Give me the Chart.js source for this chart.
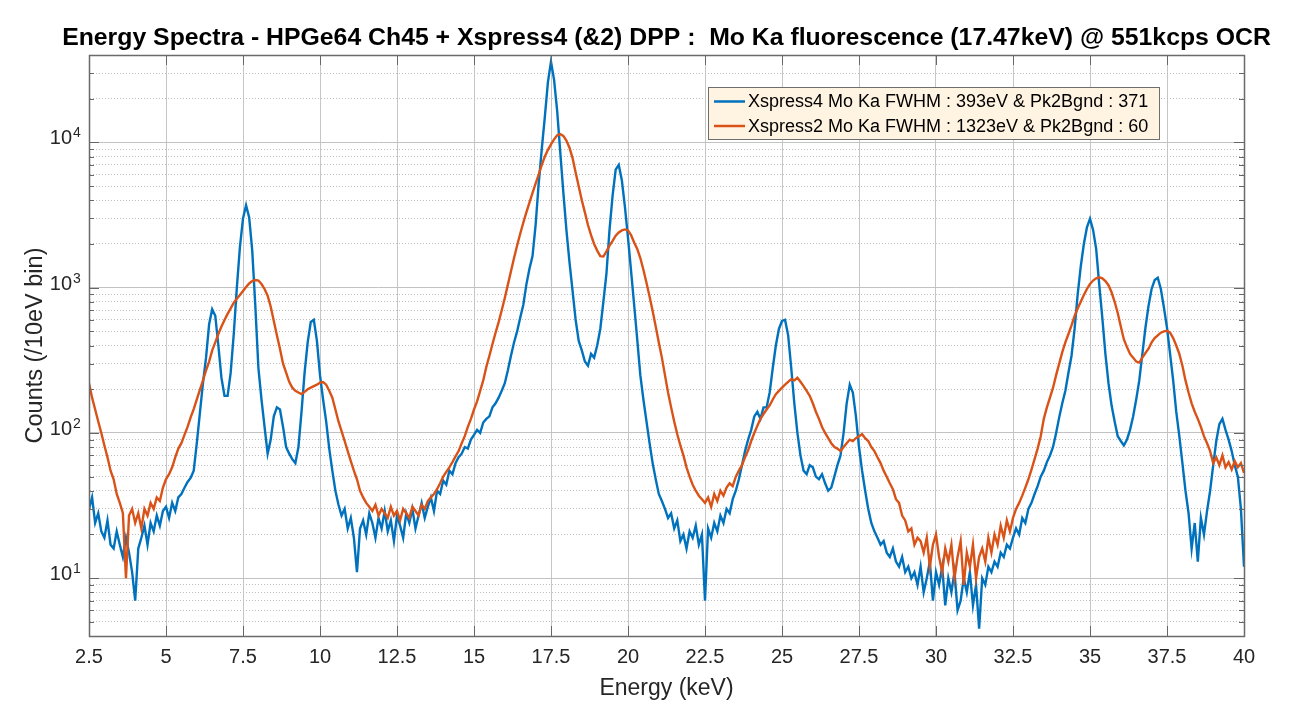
<!DOCTYPE html>
<html>
<head>
<meta charset="utf-8">
<script src="https://cdn.jsdelivr.net/npm/chart.js@4.4.1/dist/chart.umd.min.js"></script>
<style>
html,body{margin:0;padding:0;background:#fff;}
#wrap{width:1292px;height:718px;position:relative;}
</style>
</head>
<body>
<div id="wrap"><canvas id="c" width="1292" height="718"></canvas></div>
<script>
// ---- energy bins (keV): start and spacing of the sampled spectrum
const E_START = 2.5;
const E_STEP = 0.1;

// ---- Xspress4 counts (/10eV bin), one row per keV starting at 2.5, 3.5, ...
const xspress4Counts = [
  30, 36, 24, 28, 21, 19, 25, 17, 16, 21,
  17, 14, 19, 15, 11, 7, 16, 19, 23, 17,
  24, 21, 27, 23, 29, 31, 26, 33, 29, 36,
  38, 42, 46, 49, 55, 85, 137, 220, 330, 560,
  710, 640, 400, 240, 180, 180, 260, 480, 1000, 1900,
  3000, 3690, 3050, 1800, 750, 280, 170, 110, 72, 90,
  130, 150, 145, 110, 80, 72, 66, 62, 80, 140,
  260, 420, 580, 600, 430, 250, 170, 120, 78, 55,
  40, 32, 27, 30, 22, 26, 19, 11, 22, 25,
  20, 28, 24, 19, 26, 22, 29, 21, 25, 18,
  27, 23, 19, 28, 24, 30, 22, 27, 33, 26,
  31, 36, 29, 40, 38, 47, 44, 55, 52, 62,
  68, 72, 80, 78, 90, 97, 105, 100, 118, 125,
  130, 150, 160, 175, 195, 220, 270, 340, 420, 500,
  620, 760, 1050, 1350, 1650, 2700, 5200, 9000, 15000, 26000,
  36000, 27000, 16500, 8600, 4550, 2500, 1500, 950, 600, 430,
  370, 310, 290, 350, 330, 400, 520, 800, 1250, 2500,
  4300, 6500, 7000, 5500, 3600, 2200, 1300, 760, 440, 250,
  170, 120, 85, 62, 48, 38, 34, 30, 26, 28,
  22, 25, 18, 20, 16, 21, 19, 23, 17, 20,
  7, 22, 19, 24, 21, 27, 24, 30, 28, 35,
  40, 48, 60, 75, 90, 105, 130, 140, 125, 150,
  150, 190, 280, 400, 520, 590, 600, 470, 280, 160,
  100, 70, 55, 52, 60, 58, 50, 48, 52, 45,
  40, 42, 50, 60, 70, 100, 160, 215, 190, 130,
  80, 55, 40, 30, 24, 21, 19, 17, 18, 15,
  14, 16, 13, 12, 14, 11, 12, 10, 11, 9,
  12, 8, 10, 13, 7, 11, 9, 12, 6.5, 10,
  8, 11, 6, 7, 10, 8, 11, 6.5, 9, 4.5,
  10, 9, 12, 11, 13, 12, 15, 14, 17, 16,
  19, 22, 20, 26, 24, 30, 33, 38, 43, 50,
  55, 63, 70, 80, 100, 128, 160, 195, 260, 340,
  520, 900, 1400, 2000, 2600, 2980, 2500, 1850, 1050, 620,
  350, 220, 155, 120, 95, 88, 82, 90, 105, 130,
  170, 230, 350, 530, 750, 980, 1130, 1170, 980, 730,
  530, 350, 230, 140, 95, 62, 40, 28, 16, 24,
  13, 26, 20, 29, 40, 60, 88, 115, 125, 105,
  90, 75, 60, 50, 30, 12
];

// ---- Xspress2 counts (/10eV bin), same bins
const xspress2Counts = [
  220, 175, 145, 120, 100, 82, 68, 55, 48, 38,
  33, 28, 10, 27, 30, 24, 28, 22, 30, 27,
  33, 30, 36, 34, 42, 48, 52, 58, 68, 78,
  85, 97, 110, 128, 146, 170, 198, 230, 270, 310,
  370, 420, 480, 540, 600, 660, 720, 790, 840, 890,
  950, 1010, 1070, 1110, 1130, 1120, 1060, 980, 880, 740,
  590, 470, 380, 300, 260, 225, 205, 195, 190, 185,
  192, 200, 205, 210, 215, 222, 224, 215, 195, 175,
  145, 120, 103, 88, 75, 64, 55, 48, 40, 36,
  33, 31, 29, 32, 27, 30, 28, 26, 31, 27,
  29, 25, 30, 28, 26, 31, 29, 27, 32, 30,
  34, 36, 38, 41, 45, 50, 54, 58, 63, 69,
  75, 85, 95, 110, 125, 145, 165, 195, 230, 285,
  340, 410, 490, 580, 700, 850, 1050, 1300, 1600, 1950,
  2350, 2800, 3300, 3850, 4500, 5200, 6000, 7000, 8000, 8900,
  9700, 10500, 11200, 11400, 11100, 10300, 9200, 7800, 6200, 5000,
  4000, 3300, 2700, 2300, 2000, 1800, 1650, 1640, 1780, 1950,
  2100, 2280, 2400, 2480, 2520, 2480, 2300, 2050, 1850, 1600,
  1330, 1080, 870, 690, 540, 420, 330, 250, 190, 150,
  120, 98, 82, 70, 58, 50, 44, 40, 37, 35,
  33, 36, 31, 38, 34, 40, 37, 42, 45, 43,
  50, 55, 60, 68, 76, 88, 100, 112, 125, 135,
  145, 155, 170, 185, 195, 205, 215, 225, 235, 230,
  240, 225, 210, 195, 180, 160, 140, 125, 110, 100,
  92, 85, 80, 78, 75, 80, 85, 90, 88, 92,
  95, 98, 92, 88, 80, 75, 68, 62, 55, 50,
  45, 41, 35, 33, 27, 25, 21, 22, 17, 19,
  18, 15, 19, 12, 17, 20, 14, 11, 16, 13,
  17, 10, 14, 18, 9, 15, 12, 17, 10, 14,
  16, 13, 19, 15, 20, 17, 23, 19, 25, 21,
  26, 30, 33, 37, 42, 48, 56, 66, 78, 95,
  125, 150, 175, 205, 250, 300, 360, 420, 480, 550,
  640, 720, 800, 890, 980, 1060, 1120, 1160, 1180, 1160,
  1110, 1040, 930, 800, 670, 540, 440, 390, 350, 330,
  310, 305, 330, 355, 380, 420, 450, 470, 490, 500,
  505, 490, 450, 400, 350, 290, 230, 190, 160, 140,
  125, 110, 95, 85, 75, 62, 68, 60, 70, 58,
  63, 56, 64, 58, 62, 53
];

const seriesLabels = [
  'Xspress4 Mo Ka FWHM : 393eV & Pk2Bgnd : 371',
  'Xspress2 Mo Ka FWHM : 1323eV & Pk2Bgnd : 60'
];
const seriesColors = ['#0072BD', '#D95319'];
const chartTitle = 'Energy Spectra - HPGe64 Ch45 + Xspress4 (&2) DPP :  Mo Ka fluorescence (17.47keV) @ 551kcps OCR';
const xAxisTitle = 'Energy (keV)';
const yAxisTitle = 'Counts (/10eV bin)';

const xMin = 2.5, xMax = 40, xTickStep = 2.5;
const yMin = 4, yMax = 40000;
const yMajorTicks = [10, 100, 1000, 10000];
const yTickBase = '10';
const yTickExponents = ['1', '2', '3', '4'];
const yMinorMultipliers = [2, 3, 4, 5, 6, 7, 8, 9];

// ---- derived
const energies = xspress4Counts.map((_, i) => +(E_START + i * E_STEP).toFixed(2));
const yTickValues = [];
[1, 10, 100, 1000, 10000].forEach(dec => {
  [1].concat(yMinorMultipliers).forEach(m => {
    const v = dec * m;
    if (v > yMin && v < yMax) yTickValues.push(v);
  });
});
const isMajor = v => yMajorTicks.indexOf(v) >= 0;

const FONT = "'Liberation Sans', Arial, Helvetica, sans-serif";

// title centred over the axes box (MATLAB style)
const titlePlugin = {
  id: 'axesTitle',
  afterDraw(chart) {
    const ctx = chart.ctx, a = chart.chartArea;
    ctx.save();
    ctx.font = 'bold 24.8px ' + FONT;
    ctx.fillStyle = '#000';
    ctx.textAlign = 'center';
    ctx.textBaseline = 'alphabetic';
    ctx.fillText(chartTitle, (a.left + a.right) / 2, 45);
    ctx.restore();
  }
};

// y tick labels as 10 with a raised exponent (MATLAB style)
const yLabelPlugin = {
  id: 'yPowLabels',
  afterDraw(chart) {
    const ctx = chart.ctx, ys = chart.scales.y;
    ctx.save();
    ctx.fillStyle = '#262626';
    ctx.textBaseline = 'alphabetic';
    yMajorTicks.forEach((v, i) => {
      const py = ys.getPixelForValue(v);
      ctx.font = '20px ' + FONT;
      ctx.textAlign = 'right';
      ctx.fillText(yTickBase, 72, py + 2);
      ctx.font = '14px ' + FONT;
      ctx.textAlign = 'left';
      ctx.fillText(yTickExponents[i], 73, py - 5);
    });
    ctx.restore();
  }
};

const boxPlugin = {
  id: 'box',
  afterDraw(chart) {
    const {ctx, chartArea: a, scales} = chart;
    ctx.save();
    ctx.strokeStyle = '#666';
    ctx.lineWidth = 1;
    ctx.beginPath();
    scales.x.ticks.forEach(t => {
      const px = Math.round(scales.x.getPixelForValue(t.value)) + 0.5;
      ctx.moveTo(px, a.bottom); ctx.lineTo(px, a.bottom - 10);
      ctx.moveTo(px, a.top); ctx.lineTo(px, a.top + 10);
    });
    scales.y.ticks.forEach(t => {
      const py = Math.round(scales.y.getPixelForValue(t.value)) + 0.5;
      const len = isMajor(t.value) ? 10 : 5;
      ctx.moveTo(a.left, py); ctx.lineTo(a.left + len, py);
      ctx.moveTo(a.right, py); ctx.lineTo(a.right - len, py);
    });
    ctx.stroke();
    ctx.strokeStyle = '#6a6a6a';
    ctx.lineWidth = 1.5;
    ctx.strokeRect(Math.round(a.left) + 0.5, Math.round(a.top) + 0.5,
                   Math.round(a.right - a.left), Math.round(a.bottom - a.top));
    ctx.restore();
  }
};

const legendPlugin = {
  id: 'matlabLegend',
  afterDatasetsDraw(chart) {
    const ctx = chart.ctx;
    const bx = 708, by = 87, bw = 451, bh = 52;
    ctx.save();
    ctx.fillStyle = '#fff3e1';
    ctx.fillRect(bx, by, bw, bh);
    ctx.strokeStyle = '#6e6e6e';
    ctx.lineWidth = 1;
    ctx.strokeRect(bx + 0.5, by + 0.5, bw, bh);
    ctx.font = '18px ' + FONT;
    ctx.textBaseline = 'middle';
    ctx.fillStyle = '#000';
    chart.data.datasets.forEach((ds, i) => {
      const cy = by + 14.5 + i * 24.5;
      ctx.strokeStyle = ds.borderColor;
      ctx.lineWidth = 2.5;
      ctx.beginPath();
      ctx.moveTo(bx + 6, cy); ctx.lineTo(bx + 37, cy);
      ctx.stroke();
      ctx.fillText(ds.label, bx + 40, cy + 1);
    });
    ctx.restore();
  }
};

const ctx = document.getElementById('c').getContext('2d');
new Chart(ctx, {
  type: 'line',
  data: {
    datasets: [
      {
        label: seriesLabels[0],
        data: energies.map((e, i) => ({x: e, y: xspress4Counts[i]})),
        borderColor: seriesColors[0], borderWidth: 2.4,
        pointRadius: 0, tension: 0, fill: false, order: 1
      },
      {
        label: seriesLabels[1],
        data: energies.map((e, i) => ({x: e, y: xspress2Counts[i]})),
        borderColor: seriesColors[1], borderWidth: 2.4,
        pointRadius: 0, tension: 0, fill: false, order: 0
      }
    ]
  },
  options: {
    responsive: false,
    animation: false,
    devicePixelRatio: 1,
    parsing: false,
    normalized: true,
    layout: {padding: {left: 0, right: 48, top: 55, bottom: 0}},
    plugins: {
      legend: {display: false},
      tooltip: {enabled: false},
      title: {display: false}
    },
    scales: {
      x: {
        type: 'linear', min: xMin, max: xMax,
        ticks: {stepSize: xTickStep, autoSkip: false, maxRotation: 0,
                font: {family: FONT, size: 20}, color: '#262626', padding: 9},
        grid: {color: '#c6c6c6', lineWidth: 1, drawTicks: false},
        border: {display: true, color: '#6a6a6a', width: 1},
        title: {display: true, text: xAxisTitle, color: '#262626',
                font: {family: FONT, size: 23, lineHeight: 1.2}, padding: {top: 0, bottom: 16}},
        afterFit(s) { s.height = 82; }
      },
      y: {
        type: 'logarithmic', min: yMin, max: yMax,
        afterBuildTicks(s) { s.ticks = yTickValues.map(v => ({value: v})); },
        ticks: {
          autoSkip: false,
          callback() { return ''; },
          font: {family: FONT, size: 20}, color: '#262626', padding: 9
        },
        grid: {
          drawTicks: false, lineWidth: 1,
          color: c => (c.tick && isMajor(c.tick.value)) ? '#c2c2c2' : '#bdbdbd'
        },
        border: {
          display: true, color: '#6a6a6a', width: 1,
          dash: c => (c.tick && !isMajor(c.tick.value)) ? [1, 2] : []
        },
        title: {display: true, text: yAxisTitle, color: '#262626',
                font: {family: FONT, size: 23.5, lineHeight: 1.2}, padding: {top: 21, bottom: 0}},
        afterFit(s) { s.width = 89; }
      }
    }
  },
  plugins: [boxPlugin, legendPlugin, yLabelPlugin, titlePlugin]
});
</script>
</body>
</html>
